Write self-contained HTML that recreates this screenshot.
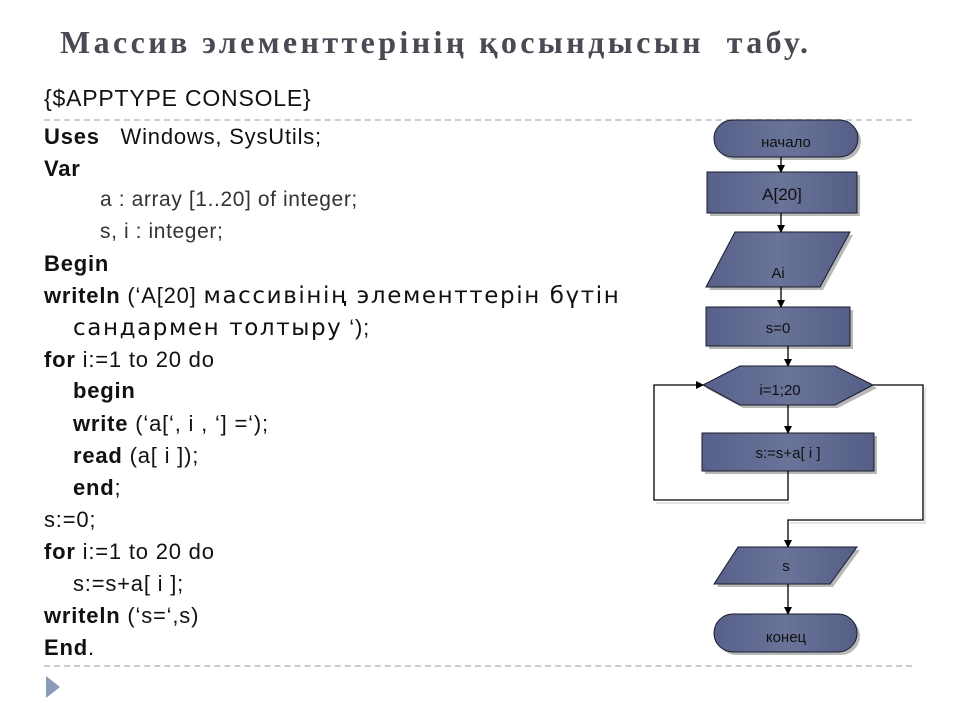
<!DOCTYPE html>
<html><head><meta charset="utf-8"><style>
body{margin:0;width:960px;height:720px;background:#fff;position:relative;overflow:hidden;font-family:"Liberation Sans","DejaVu Sans",sans-serif;}
.t{position:absolute;left:60px;top:24px;font-family:"Liberation Serif","DejaVu Serif",serif;font-weight:bold;font-size:32px;color:#4a4a55;white-space:nowrap;letter-spacing:3.4px}
.l{position:absolute;font-size:22px;color:#111;white-space:nowrap;line-height:24px;letter-spacing:0.8px}
.g{color:#333}
.c{font-family:"DejaVu Sans","Liberation Sans",sans-serif;font-size:23px;letter-spacing:1.6px}
.dash{position:absolute;left:44px;width:868px;border-top:2px dashed #c8ccd4;height:0}
</style></head><body>
<div class="t">Массив элементтерінің қосындысын&nbsp; табу.</div>
<div class="l" style="left:44px;top:86px;font-size:23px">{$APPTYPE CONSOLE}</div>
<div class="dash" style="top:119px"></div>
<div class="dash" style="top:665px"></div>
<div class="l" style="left:44px;top:125px"><b>Uses</b>&nbsp;&nbsp; Windows, SysUtils;</div>
<div class="l" style="left:44px;top:157px"><b>Var</b></div>
<div class="l g" style="left:100px;top:188px;font-size:21px;letter-spacing:0.6px">a : array [1..20] of integer;</div>
<div class="l g" style="left:100px;top:220px;font-size:21px;letter-spacing:0.6px">s, i : integer;</div>
<div class="l" style="left:44px;top:252px"><b>Begin</b></div>
<div class="l" style="left:44px;top:284px"><b>writeln</b> (‘A[20] <span class="c">массивінің элементтерін бүтін</span></div>
<div class="l" style="left:73px;top:316px"><span class="c">сандармен толтыру</span> ‘);</div>
<div class="l" style="left:44px;top:348px"><b>for</b> i:=1 to 20 do</div>
<div class="l" style="left:73px;top:379px"><b>begin</b></div>
<div class="l" style="left:73px;top:412px"><b>write</b> (‘a[‘, i , ‘] =‘);</div>
<div class="l" style="left:73px;top:444px"><b>read</b> (a[ i ]);</div>
<div class="l" style="left:73px;top:476px"><b>end</b>;</div>
<div class="l" style="left:44px;top:508px">s:=0;</div>
<div class="l" style="left:44px;top:540px"><b>for</b> i:=1 to 20 do</div>
<div class="l" style="left:73px;top:572px">s:=s+a[ i ];</div>
<div class="l" style="left:44px;top:604px"><b>writeln</b> (‘s=‘,s)</div>
<div class="l" style="left:44px;top:636px"><b>End</b>.</div>
<svg style="position:absolute;left:0;top:0" width="960" height="720">
<defs>
<linearGradient id="gr" x1="0" x2="1" y1="0" y2="0"><stop offset="0" stop-color="#56608a"/><stop offset="0.5" stop-color="#6a7499"/><stop offset="1" stop-color="#545e86"/></linearGradient>
<marker id="ar" markerWidth="8" markerHeight="8" refX="7" refY="4" orient="auto" markerUnits="userSpaceOnUse"><path d="M0,0 L8,4 L0,8 z" fill="#000"/></marker>
</defs>
<polygon points="46,676 60,687 46,698" fill="#8a9ab8"/>
<g fill="#b8b8b8">
<rect x="717" y="123" width="144" height="37" rx="18.5"/>
<rect x="710" y="175" width="150" height="41"/>
<polygon points="738,235 853,235 823,290 709,290"/>
<rect x="709" y="310" width="144" height="39"/>
<polygon points="706,388 743,369 838,369 877,388 838,408 743,408"/>
<rect x="705" y="436" width="172" height="38"/>
<polygon points="741,550 860,550 833,587 717,587"/>
<rect x="717" y="617" width="143" height="38" rx="19"/>
</g>
<g fill="url(#gr)" stroke="#1a1a2a" stroke-width="1">
<rect x="714" y="120" width="144" height="37" rx="18.5"/>
<rect x="707" y="172" width="150" height="41"/>
<polygon points="735,232 850,232 820,287 706,287"/>
<rect x="706" y="307" width="144" height="39"/>
<polygon points="703,385 740,366 835,366 873,385 835,405 740,405"/>
<rect x="702" y="433" width="172" height="38"/>
<polygon points="738,547 857,547 830,584 714,584"/>
<rect x="714" y="614" width="143" height="38" rx="19"/>
</g>
<g stroke="#000" stroke-width="1.3" fill="none">
<line x1="781" y1="157" x2="781" y2="172" marker-end="url(#ar)"/>
<line x1="781" y1="213" x2="781" y2="232" marker-end="url(#ar)"/>
<line x1="781" y1="287" x2="781" y2="307" marker-end="url(#ar)"/>
<line x1="788" y1="346" x2="788" y2="366" marker-end="url(#ar)"/>
<line x1="788" y1="405" x2="788" y2="433" marker-end="url(#ar)"/>
<polyline points="788,471 788,500 654,500 654,385 703,385" marker-end="url(#ar)"/>
<polyline points="873,385 923,385 923,520 788,520 788,547" marker-end="url(#ar)"/>
<line x1="788" y1="584" x2="788" y2="614" marker-end="url(#ar)"/>
</g>
<g stroke="#c8c8c8" stroke-width="1" fill="none">
<polyline points="656,503 790,503"/><polyline points="790,523 925,523 925,388"/>
</g>
<g font-family="'Liberation Sans','DejaVu Sans',sans-serif" font-size="15" fill="#111" text-anchor="middle">
<text x="786" y="147">начало</text>
<text x="782" y="200" font-size="17">A[20]</text>
<text x="778" y="278">Ai</text>
<text x="778" y="333">s=0</text>
<text x="780" y="395">i=1;20</text>
<text x="788" y="458">s:=s+a[ i ]</text>
<text x="786" y="571">s</text>
<text x="786" y="642">конец</text>
</g>
</svg>
</body></html>
